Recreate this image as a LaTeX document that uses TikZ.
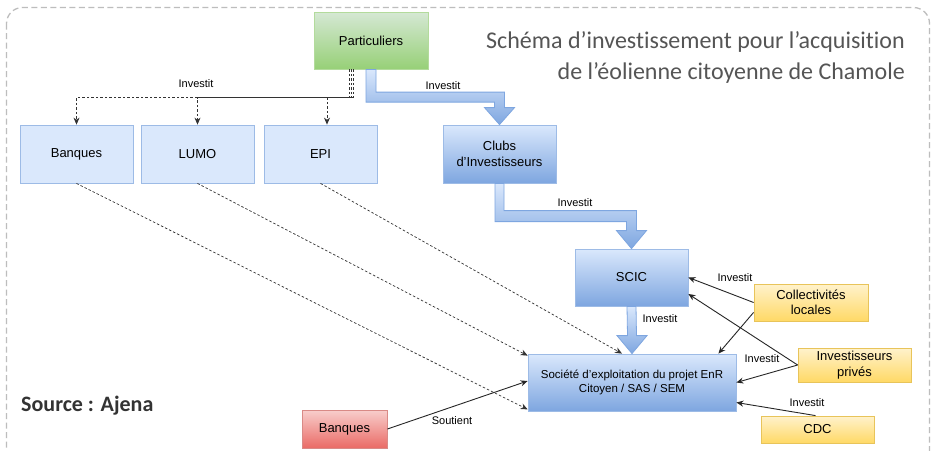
\documentclass[tikz,border=0pt]{standalone}
\usepackage{fontspec}
\setmainfont{Liberation Sans}
\newfontfamily\titlefont[Ligatures=NoCommon]{Carlito}
\usetikzlibrary{arrows.meta,calc}
\definecolor{bluelight}{HTML}{DAE8FC}
\definecolor{bluedark}{HTML}{7EA6E0}
\definecolor{blueline}{HTML}{9DBBE6}
\definecolor{greenlight}{HTML}{D5E8D4}
\definecolor{greendark}{HTML}{97D077}
\definecolor{greenline}{HTML}{B3DB9C}
\definecolor{yellowlight}{HTML}{FFF2CC}
\definecolor{yellowdark}{HTML}{FFD966}
\definecolor{yellowline}{HTML}{E8C45A}
\definecolor{redlight}{HTML}{F8CECC}
\definecolor{reddark}{HTML}{EA6B66}
\definecolor{redline}{HTML}{D98A86}
\definecolor{framegray}{HTML}{BDBDBD}
\definecolor{titlegray}{HTML}{555555}
\definecolor{srcgray}{HTML}{333333}
\tikzset{
  box/.style={rectangle, inner sep=0pt, align=center, text=black,
    font=\fontsize{13}{15.5}\selectfont},
  flatblue/.style={box, fill=bluelight, draw=blueline, line width=0.8pt},
  gradblue/.style={box, top color=bluelight, bottom color=bluedark, draw=blueline, line width=0.8pt},
  gradgreen/.style={box, top color=greenlight, bottom color=greendark, draw=greenline, line width=0.8pt},
  gradyellow/.style={box, top color=yellowlight, bottom color=yellowdark, draw=yellowline, line width=0.8pt},
  gradred/.style={box, top color=redlight, bottom color=reddark, draw=redline, line width=0.8pt},
  lbl/.style={inner sep=0pt, font=\fontsize{11}{13}\selectfont, text=black},
  dotline/.style={draw=black!80, line width=0.7pt, dash pattern=on 2.5pt off 2pt,
    -{Stealth[length=7pt,width=6pt]}},
  solidline/.style={draw=black!85, line width=0.9pt, -{Stealth[length=7pt,width=6pt]}},
  bigarrow/.style={top color=bluelight, bottom color=bluedark, draw=bluedark, line width=0.8pt, line join=miter},
}
\begin{document}
\begin{tikzpicture}[x=1pt, y=-1pt]
\useasboundingbox (0,0) rectangle (936,450);
\clip (0,0) rectangle (936,450);
\fill[white] (0,0) rectangle (936,450);
% frame
\draw[framegray, line width=1.3pt, dash pattern=on 6pt off 3.5pt, rounded corners=16pt]
  (6.5,7.5) rectangle (929.5,472);

% title
\node[anchor=north east, align=right, inner sep=0pt, text=titlegray,
  font=\titlefont\fontsize{24}{31.5}\selectfont] (title) at (905,31)
  {Schéma d’investissement pour l’acquisition\\de l’éolienne citoyenne de Chamole};
\node[anchor=west, inner sep=0pt, text=srcgray,
  font=\titlefont\bfseries\fontsize{22}{26}\selectfont] (src) at (21,406) {Source : Ajena};

% nodes
\node[gradgreen, minimum width=114pt, minimum height=57pt] (part) at (371,40.5) {Particuliers};
\node[flatblue, minimum width=113pt, minimum height=58pt] (banq1) at (76.5,154) {Banques};
\node[flatblue, minimum width=113pt, minimum height=58pt] (lumo) at (197.5,154) {LUMO};
\node[flatblue, minimum width=113pt, minimum height=58pt] (epi) at (320.5,154) {EPI};
\node[gradblue, minimum width=113pt, minimum height=58pt] (clubs) at (499.5,154) {Clubs\\d'Investisseurs};
\node[gradblue, minimum width=113pt, minimum height=57pt] (scic) at (631.5,277.5) {SCIC};
\node[gradblue, minimum width=208pt, minimum height=57pt,
  font=\fontsize{11.5}{14.5}\selectfont] (soc) at (632,382.5)
  {Société d'exploitation du projet EnR\\Citoyen / SAS / SEM};
\node[gradyellow, minimum width=114pt, minimum height=37pt] (coll) at (811,302.5) {Collectivités\\locales};
\node[gradyellow, minimum width=113pt, minimum height=34pt] (inv) at (854.5,365) {Investisseurs\\privés};
\node[gradyellow, minimum width=113pt, minimum height=27pt] (cdc) at (817.5,429.5) {CDC};
\node[gradred, minimum width=85pt, minimum height=38pt] (banq2) at (344.5,429) {Banques};

% big blue arrows
\coordinate (A1) at ($(part.south)+(-5,0)$);
\coordinate (A2) at ($(part.south)+(5,0)$);
\coordinate (B1) at ($(clubs.north)+(-5,-22.5)$);
\coordinate (B2) at ($(clubs.north)+(5,-32.5)$);
\path[bigarrow] (A1) -- (A1 |- B1) -- (B1) -- ++(0,5.5) -- ++(-10,0) -- (clubs.north)
  -- ++(15,-17) -- ++(-10,0) -- (B2) -- (B2 -| A2) -- (A2) -- cycle;
\coordinate (A3) at ($(clubs.south)+(-4.5,0)$);
\coordinate (A4) at ($(clubs.south)+(4.5,0)$);
\coordinate (B3) at ($(scic.north)+(-5,-27)$);
\coordinate (B4) at ($(scic.north)+(5,-38)$);
\path[bigarrow] (A3) -- (A3 |- B3) -- (B3) -- ++(0,9) -- ++(-10,0) -- (scic.north)
  -- ++(15,-18) -- ++(-10,0) -- (B4) -- (B4 -| A4) -- (A4) -- cycle;
\path[bigarrow] ($(scic.south)+(-4.5,0)$) -- ($(soc.north)+(-4.5,-18)$) -- ++(-10.5,0)
  -- (soc.north) -- ++(15,-18) -- ++(-10.5,0) -- ($(scic.south)+(4.5,0)$) -- cycle;

% dotted from Particuliers
\draw[dotline] ($(part.south)+(-22,0)$) |- ($(banq1.north)+(0,-27)$) -- (banq1.north);
\draw[dotline] ($(part.south)+(-20,0)$) |- ($(lumo.north)+(0,-27)$) -- (lumo.north);
\draw[dotline] ($(part.south)+(-18,0)$) |- ($(epi.north)+(6.5,-27)$) -- ($(epi.north)+(6.5,0)$);

% dotted diagonals
\draw[dotline] (banq1.south) -- ($(soc.south west)+(0,-2)$);
\draw[dotline] (lumo.south) -- ($(soc.north west)+(0,2)$);
\draw[dotline] (epi.south) -- ($(soc.north)+(-10,0)$);

% solid connectors
\draw[solidline] (coll.west) -- (scic.east);
\draw[solidline] (inv.west) -- ($(scic.east)+(0,16.5)$);
\draw[solidline] ($(coll.south west)+(0,-9)$) -- ($(soc.north east)+(-18,0)$);
\draw[solidline] (inv.west) -- (soc.east);
\draw[solidline] ($(cdc.north)+(-2,0)$) -- ($(soc.east)+(0,20)$);
\draw[solidline] (banq2.east) -- ($(soc.west)+(0,-1.5)$);

% labels
\node[lbl] (l1) at (196,84) {Investit};
\node[lbl] (l2) at (443,85.5) {Investit};
\node[lbl] (l3) at (575,203) {Investit};
\node[lbl] (l4) at (660,319) {Investit};
\node[lbl] (l5) at (735,277.5) {Investit};
\node[lbl] (l6) at (762,359) {Investit};
\node[lbl] (l7) at (807,403) {Investit};
\node[lbl] (l8) at (452,420.5) {Soutient};
\end{tikzpicture}
\end{document}
